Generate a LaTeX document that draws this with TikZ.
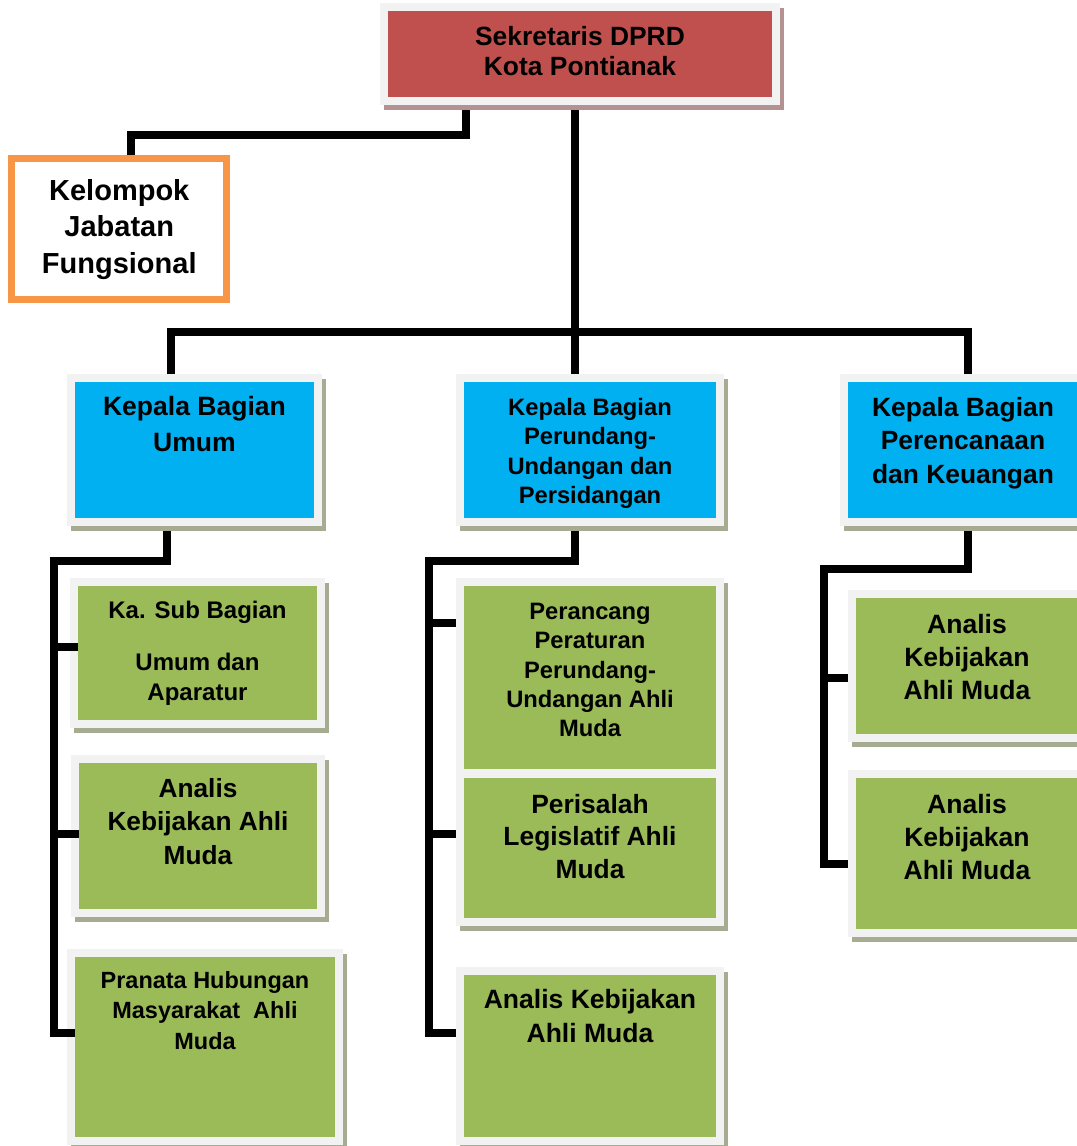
\documentclass[tikz,border=0pt]{standalone}
\usepackage{fontspec}
\setmainfont{Liberation Sans}
\usetikzlibrary{positioning,backgrounds}

\definecolor{sekred}{RGB}{192,80,77}
\definecolor{kabagblue}{RGB}{0,176,240}
\definecolor{stafgreen}{RGB}{155,187,89}
\definecolor{jfuorange}{RGB}{247,150,70}
\definecolor{rimgray}{RGB}{242,242,242}
\definecolor{shadegreen}{RGB}{166,172,146}
\definecolor{shadered}{RGB}{180,146,146}

\newcommand{\boxfont}[2]{\fontsize{#1}{#2}\selectfont\bfseries}

\tikzset{
  unit/.style={rectangle, inner sep=0pt, outer sep=0pt, draw=rimgray, line width=6pt,
    preaction={fill=#1, draw=#1, line width=6pt, transform canvas={xshift=3pt, yshift=-3.75pt}}},
  kabag/.style={unit=shadegreen, fill=kabagblue},
  staf/.style={unit=shadegreen, fill=stafgreen},
  link/.style={line width=6pt, line join=miter},
  boxtext/.style={inner sep=0pt, align=center},
}

\begin{document}
\begin{tikzpicture}[x=0.75pt, y=-0.75pt]
  \useasboundingbox (0,0) rectangle (1076,1146);

  % pimpinan
  \node[unit=shadered, fill=sekred, minimum width=294pt, minimum height=70.5pt] (sekretaris) at (580,54) {};
  \node[boxtext, font=\boxfont{19.8pt}{22.5pt}, below=14.25pt of sekretaris.north] (sekretaristxt) {Sekretaris DPRD\\Kota Pontianak};
  \node[draw=jfuorange, line width=5.25pt, fill=white, inner sep=0pt, minimum width=161.6pt, minimum height=106.1pt,
        font=\boxfont{21.75pt}{27.4pt}, align=center] (kelompok) at (119.25,229.25) {Kelompok\\Jabatan\\Fungsional};

  % kepala bagian
  \node[kabag, minimum width=185.25pt, minimum height=108pt] (umum) at (194.5,450) {};
  \node[kabag, minimum width=195pt, minimum height=108pt] (perundang) at (590,450) {};
  \node[kabag, minimum width=178.5pt, minimum height=108pt] (perencanaan) at (963,450) {};
  \node[boxtext, font=\boxfont{19.9pt}{27pt}, below=13.5pt of umum.north] (umumtxt) {Kepala Bagian\\Umum};
  \node[boxtext, font=\boxfont{17.8pt}{22pt}, below=15pt of perundang.north] (perundangtxt) {Kepala Bagian\\Perundang-\\Undangan dan\\Persidangan};
  \node[boxtext, font=\boxfont{19.8pt}{25.1pt}, below=14.25pt of perencanaan.north] (perencanaantxt) {Kepala Bagian\\Perencanaan\\dan Keuangan};

  % bagian umum
  \node[staf, minimum width=185.25pt, minimum height=106.5pt] (kasub) at (197.5,653) {};
  \node[staf, minimum width=184.5pt, minimum height=115.5pt] (analisL) at (198,836) {};
  \node[staf, minimum width=201pt, minimum height=141pt] (pranata) at (205,1047) {};
  \node[boxtext, font=\boxfont{18pt}{22.5pt}, below=14.25pt of kasub.north] (kasubtxt) {Ka. Sub Bagian\\[16.5pt]Umum dan\\Aparatur};
  \node[boxtext, font=\boxfont{19.7pt}{25.1pt}, below=14.25pt of analisL.north] (analisLtxt) {Analis\\Kebijakan Ahli\\Muda};
  \node[boxtext, font=\boxfont{17.6pt}{22.9pt}, below=13.5pt of pranata.north] (pranatatxt) {Pranata Hubungan\\Masyarakat\ \ Ahli\\Muda};

  % bagian perundang-undangan
  \node[staf, minimum width=195pt, minimum height=143.25pt] (perancang) at (590,677.5) {};
  \node[staf, minimum width=195pt, minimum height=111pt] (perisalah) at (590,848) {};
  \node[staf, minimum width=195pt, minimum height=127.5pt] (analisM) at (590,1056) {};
  \node[boxtext, font=\boxfont{17.8pt}{21.9pt}, below=15.75pt of perancang.north] (perancangtxt) {Perancang\\Peraturan\\Perundang-\\Undangan Ahli\\Muda};
  \node[boxtext, font=\boxfont{19.8pt}{24.4pt}, below=15pt of perisalah.north] (perisalahtxt) {Perisalah\\Legislatif Ahli\\Muda};
  \node[boxtext, font=\boxfont{19.9pt}{25.5pt}, below=13.5pt of analisM.north] (analisMtxt) {Analis Kebijakan\\Ahli Muda};

  % bagian perencanaan
  \node[staf, minimum width=172.5pt, minimum height=108pt] (analisR1) at (967,666) {};
  \node[staf, minimum width=172.5pt, minimum height=119.25pt] (analisR2) at (967,853.5) {};
  \node[boxtext, font=\boxfont{19.9pt}{24.75pt}, below=15pt of analisR1.north] (analisR1txt) {Analis\\Kebijakan\\Ahli Muda};
  \node[boxtext, font=\boxfont{19.9pt}{24.75pt}, below=15pt of analisR2.north] (analisR2txt) {Analis\\Kebijakan\\Ahli Muda};

  \begin{pgfonlayer}{background}
    % garis komando
    \coordinate (spine) at (575,332);
    \coordinate (barL) at (171,332);
    \coordinate (barR) at (968,332);
    \draw[link] (sekretaris.south -| spine) -- (perundang.north -| spine);
    \draw[link] (barL |- umum.north) -- (barL) -- (barR) -- (barR |- perencanaan.north);

    \coordinate (jfuR) at (466,135);
    \coordinate (jfuL) at (130.5,135);
    \draw[link] (sekretaris.south -| jfuR) -- (jfuR) -- (jfuL) -- (jfuL |- kelompok.north);

    \coordinate (umumdrop) at (167,561);
    \coordinate (trunkU) at (54,561);
    \coordinate (u1) at (54,647);
    \coordinate (u2) at (54,834);
    \coordinate (u3) at (54,1033);
    \draw[link] (umumdrop |- umum.south) -- (umumdrop) -- (trunkU) -- (u3) -- (u3 -| pranata.west);

    \coordinate (pudrop) at (575,561);
    \coordinate (trunkP) at (429,561);
    \coordinate (p1) at (429,623);
    \coordinate (p2) at (429,834);
    \coordinate (p3) at (429,1033);
    \draw[link] (pudrop |- perundang.south) -- (pudrop) -- (trunkP) -- (p3) -- (p3 -| analisM.west);
    \draw[link] (p1) -- (p1 -| perancang.west);
    \draw[link] (p2) -- (p2 -| perisalah.west);

    \coordinate (pkdrop) at (968,569);
    \coordinate (trunkR) at (824,569);
    \coordinate (r1) at (824,678);
    \coordinate (r2) at (824,864);
    \draw[link] (pkdrop |- perencanaan.south) -- (pkdrop) -- (trunkR) -- (r2) -- ([xshift=3pt]r2 -| analisR2.west);
    \draw[link] (r1) -- (r1 -| analisR1.west);
  \end{pgfonlayer}

  % bagian umum: cabang sampai ke isi kotak
  \draw[link] (u1) -- ([xshift=3pt]u1 -| kasub.west);
  \draw[link] (u2) -- ([xshift=3pt]u2 -| analisL.west);
  \draw[link] (u3) -- ([xshift=3pt]u3 -| pranata.west);
\end{tikzpicture}
\end{document}
